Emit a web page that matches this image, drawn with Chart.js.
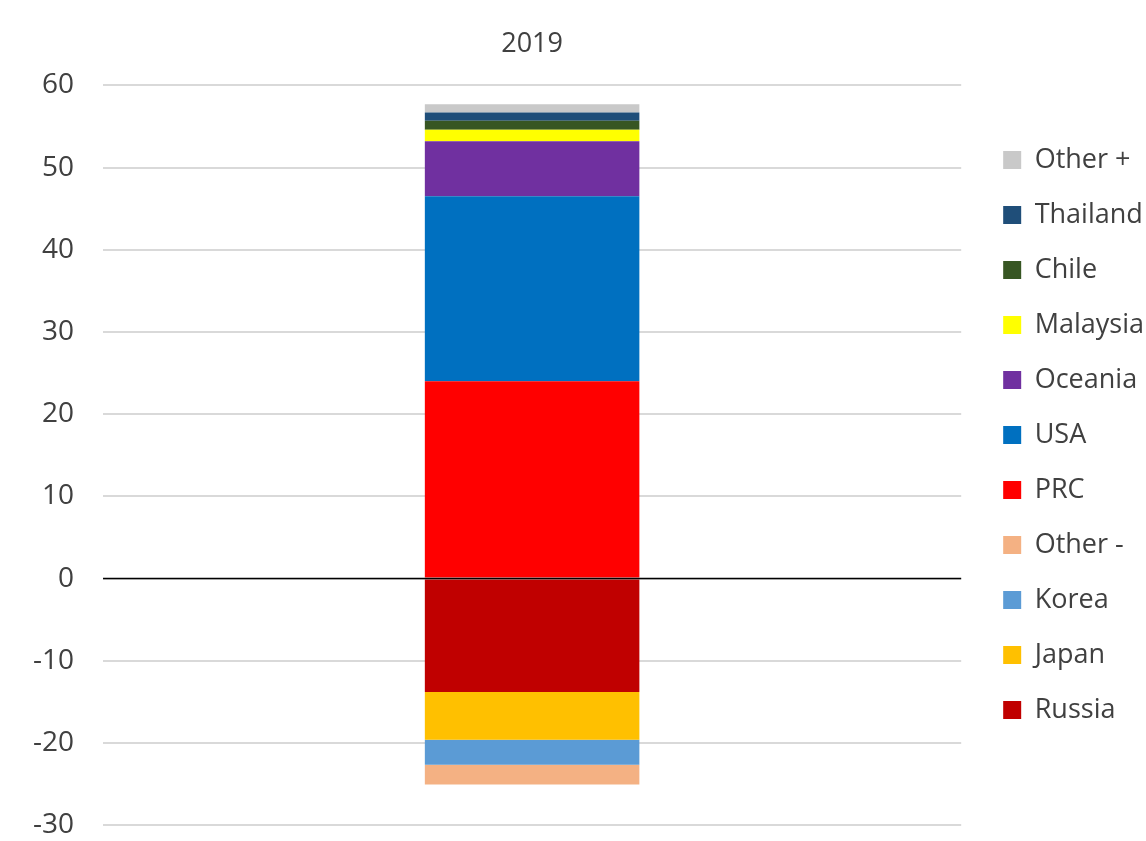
<!DOCTYPE html>
<html>
<head>
<meta charset="utf-8">
<script src="https://cdn.jsdelivr.net/npm/chart.js@4/dist/chart.umd.min.js"></script>
<style>
  html, body { margin: 0; padding: 0; background: #fff; overflow: hidden; }
  #wrap { width: 1154px; height: 871px; position: relative; }
</style>
</head>
<body>
<div id="wrap"><canvas id="chartOne"></canvas></div>
<script>
// category and y-axis range
let categories = ['2019'];
let yTicks = [-30, -20, -10, 0, 10, 20, 30, 40, 50, 60];

// series in stacking order (bottom-most first on each side)
let seriesNames = ['Russia', 'Japan', 'Korea', 'Other -', 'PRC', 'USA', 'Oceania', 'Malaysia', 'Chile', 'Thailand', 'Other +'];
let russia = [-13.8];
let japan = [-5.8];
let korea = [-3.05];
let otherMinus = [-2.4];
let prc = [24.0];
let usa = [22.5];
let oceania = [6.7];
let malaysia = [1.4];
let chile = [1.1];
let thailand = [1.0];
let otherPlus = [1.0];

let seriesValues = [russia, japan, korea, otherMinus, prc, usa, oceania, malaysia, chile, thailand, otherPlus];
let seriesColors = ['#c00000', '#ffc000', '#5b9bd5', '#f4b183', '#ff0000', '#0070c0', '#7030a0', '#ffff00', '#375623', '#1f4e79', '#c9c9c9'];

let textColor = '#404040';
let fontFamily = '"Open Sans", "Noto Sans", sans-serif';

// zero line is drawn over the bars, like the category axis in the original
let zeroLine = {
    id: 'zeroLine',
    afterLayout(chart) {
        // nudge the legend up a little
        chart.legend.top -= 3;
        chart.legend.bottom -= 3;
    },
    afterDatasetsDraw(chart) {
        let y = chart.scales.y.getPixelForValue(0);
        let ctx = chart.ctx;
        ctx.save();
        ctx.strokeStyle = '#000000';
        ctx.lineWidth = 1.5;
        ctx.beginPath();
        ctx.moveTo(chart.chartArea.left, y);
        ctx.lineTo(chart.chartArea.right, y);
        ctx.stroke();
        ctx.restore();
    }
};

let datasets = seriesNames.map((name, i) => ({
    label: name,
    data: seriesValues[i],
    backgroundColor: seriesColors[i],
    borderWidth: 0,
    barPercentage: 0.25,
    categoryPercentage: 1.0
}));

let chartOne = document.getElementById('chartOne').getContext('2d');
let studentsChart1 = new Chart(chartOne, {
    type: 'bar',
    data: {
        labels: categories,
        datasets: datasets
    },
    options: {
        responsive: true,
        maintainAspectRatio: false,
        animation: false,
        layout: { padding: { left: 4, top: 11, bottom: 6, right: 0 } },
        plugins: {
            legend: {
                position: 'right',
                reverse: true,
                labels: {
                    boxWidth: 18,
                    boxHeight: 18,
                    padding: 28,
                    color: textColor,
                    font: { family: fontFamily, size: 27 }
                }
            },
            tooltip: { enabled: false }
        },
        scales: {
            x: {
                position: 'top',
                stacked: true,
                grid: { display: false },
                border: { display: false },
                ticks: { color: textColor, font: { family: fontFamily, size: 27 }, padding: 17 }
            },
            y: {
                stacked: true,
                min: -30,
                max: 60,
                afterBuildTicks: (axis) => { axis.ticks = yTicks.map(v => ({ value: v })); },
                grid: {
                    color: '#d9d9d9',
                    lineWidth: 2,
                    drawTicks: false
                },
                border: { display: false },
                ticks: { color: textColor, font: { family: fontFamily, size: 28 }, padding: 29 }
            },
            // empty spacer between plot and legend
            gap: {
                type: 'linear',
                position: 'right',
                grid: { display: false },
                border: { display: false },
                ticks: { display: false },
                afterFit: (axis) => { axis.width = 14; }
            }
        }
    },
    plugins: [zeroLine]
});
</script>
</body>
</html>
